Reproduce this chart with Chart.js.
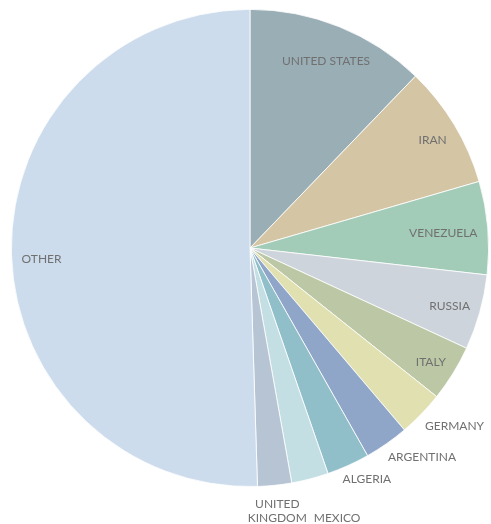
<!DOCTYPE html>
<html>
<head>
<meta charset="utf-8">
<script src="https://cdn.jsdelivr.net/npm/chart.js@4/dist/chart.umd.min.js"></script>
<style>
  html, body { margin: 0; padding: 0; background: #ffffff; }
  #wrap { width: 491px; height: 524px; }
</style>
</head>
<body>
<div id="wrap"><canvas id="pie" width="491" height="524"></canvas></div>
<script>
// Share of total, by country (percent)
const categories = ['UNITED STATES', 'IRAN', 'VENEZUELA', 'RUSSIA', 'ITALY', 'GERMANY',
                    'ARGENTINA', 'ALGERIA', 'MEXICO', 'UNITED KINGDOM', 'OTHER'];
const shares = [12.2, 8.3, 6.3, 5.1, 3.8, 3.1, 3.0, 2.9, 2.5, 2.3, 50.5];

const sliceColors = ['#9aaeb6', '#d4c5a5', '#a2cbb8', '#cdd4db', '#bcc8a5', '#e1e0b0',
                     '#8fa6c8', '#90bfca', '#c3dfe4', '#b7c4d4', '#cddcec'];

// Where each label sits relative to its slice
const labelPlacement = ['inside', 'inside', 'inside', 'inside', 'inside', 'outside',
                        'outside', 'outside', 'outside', 'outside', 'inside'];

// Small manual shifts for labels that would otherwise collide or crowd
const labelNudge = { 'MEXICO': [16, 25], 'UNITED KINGDOM': [-3, 5], 'OTHER': [0, 6] };

const LABEL_FONT = '12px Lato';
const LINE_H = 14;
const TEXT_H = 12;

const clamp = (v) => Math.max(-1, Math.min(1, v));

const sliceLabels = {
  id: 'sliceLabels',
  afterDatasetsDraw(chart) {
    const ctx = chart.ctx;
    const meta = chart.getDatasetMeta(0);
    ctx.save();
    ctx.font = LABEL_FONT;
    ctx.fillStyle = '#707070';
    ctx.textAlign = 'center';
    ctx.textBaseline = 'middle';
    meta.data.forEach((arc, i) => {
      const p = arc.getProps(['x', 'y', 'startAngle', 'endAngle', 'outerRadius'], true);
      const mid = (p.startAngle + p.endAngle) / 2;
      const c = Math.cos(mid), s = Math.sin(mid);
      const R = p.outerRadius;
      const name = categories[i];
      const inside = labelPlacement[i] === 'inside';
      let lines = [name];
      if (!inside && ctx.measureText(name).width > 80) lines = name.split(' ');
      const w = Math.max(...lines.map(t => ctx.measureText(t).width)) / 2;
      const h = (LINE_H * (lines.length - 1) + TEXT_H) / 2;
      let cx, cy;
      if (inside) {
        // push the box outward until its farthest corner nears the rim
        const target = R - 10;
        let lo = 0, hi = R;
        for (let k = 0; k < 40; k++) {
          const d = (lo + hi) / 2;
          const far = Math.hypot(Math.abs(d * c) + w, Math.abs(d * s) + h);
          if (far > target) hi = d; else lo = d;
        }
        cx = p.x + lo * c;
        cy = p.y + lo * s + 2;
      } else {
        // anchor a point of the box just outside the rim
        const r = R + 5;
        const ax = -clamp(c / 0.6), ay = -clamp(s / 0.6);
        cx = p.x + r * c - ax * w;
        cy = p.y + r * s - ay * h + 3;
      }
      const n = labelNudge[name];
      if (n) { cx += n[0]; cy += n[1]; }
      const top = cy - LINE_H * (lines.length - 1) / 2;
      lines.forEach((t, j) => ctx.fillText(t, cx, top + j * LINE_H));
    });
    ctx.restore();
  }
};

new Chart(document.getElementById('pie'), {
  type: 'pie',
  data: {
    labels: categories,
    datasets: [{
      data: shares,
      backgroundColor: sliceColors,
      borderColor: '#ffffff',
      borderWidth: 0.8
    }]
  },
  options: {
    responsive: false,
    animation: false,
    layout: { padding: { left: 11, right: 2, top: 9, bottom: 37 } },
    plugins: {
      legend: { display: false },
      tooltip: { enabled: false }
    }
  },
  plugins: [sliceLabels]
});
</script>
</body>
</html>
